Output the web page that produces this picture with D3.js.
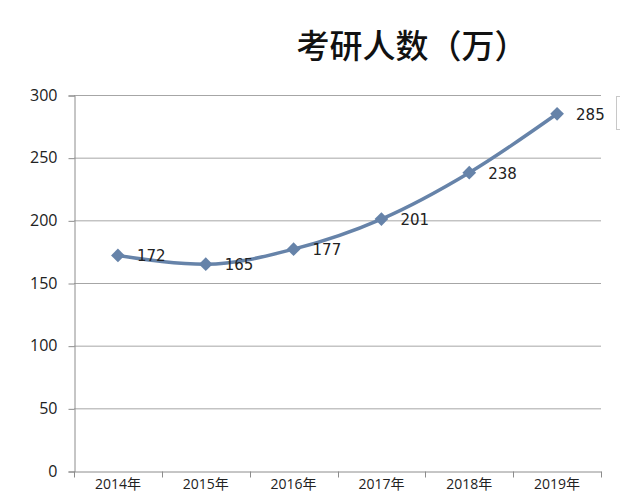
<!DOCTYPE html>
<html>
<head>
<meta charset="utf-8">
<script src="https://cdn.jsdelivr.net/npm/d3@7"></script>
<style>
  body { margin: 0; background: #fff; }
  svg { display: block; }
</style>
</head>
<body>
<svg></svg>
<script>
const width = 620;
const height = 498;
const margin = { top: 95, right: 19, bottom: 27, left: 74 };

// Data
const years = ["2014年", "2015年", "2016年", "2017年", "2018年", "2019年"];
const applicants = [172, 165, 177, 201, 238, 285];
const yTicks = [0, 50, 100, 150, 200, 250, 300];
const title = "考研人数（万）";

const lineColor = "#6683a9";
const gridColor = "#a6a6a6";

const svg = d3.select("svg").attr("width", width).attr("height", height);

// Scales
const x = d3
  .scaleBand()
  .domain(years)
  .range([margin.left, width - margin.right]);

const y = d3
  .scaleLinear()
  .domain([0, 300])
  .range([height - margin.bottom, margin.top]);

// Grid lines
svg
  .append("g")
  .selectAll("line")
  .data(yTicks.slice(1))
  .join("line")
  .attr("x1", margin.left)
  .attr("x2", width - margin.right)
  .attr("y1", (d) => y(d) + 0.5)
  .attr("y2", (d) => y(d) + 0.5)
  .attr("stroke", gridColor)
  .attr("stroke-width", 1);

// Y axis
const yAxis = svg
  .append("g")
  .attr("transform", `translate(${margin.left + 0.5},0.5)`)
  .call(d3.axisLeft(y).tickValues(yTicks).tickSize(6).tickPadding(11));
yAxis.select(".domain").attr("stroke", "#8c8c8c");
yAxis.selectAll(".tick line").attr("stroke", "#8c8c8c");
yAxis
  .selectAll(".tick text")
  .attr("fill", "#222")
  .style("font-family", "'Open Sans', 'DejaVu Sans', sans-serif")
  .style("font-size", "16px")
  .attr("dy", "0.3em");

// X axis (labels sit low, as in the source)
const xAxis = svg
  .append("g")
  .attr("transform", `translate(0,${height - margin.bottom + 0.5})`)
  .call(d3.axisBottom(x).tickSize(0).tickPadding(8));
xAxis.select(".domain").attr("stroke", "#8c8c8c");
xAxis
  .selectAll(".tick text")
  .attr("fill", "#222")
  .style("font-family", "'Open Sans', 'Noto Sans CJK SC', sans-serif")
  .style("font-size", "14px");

// Category boundary ticks
const edges = years.map((d) => x(d)).concat([x(years[years.length - 1]) + x.bandwidth()]);
xAxis
  .append("g")
  .selectAll("line")
  .data(edges)
  .join("line")
  .attr("x1", (d) => Math.round(d) + 0.5)
  .attr("x2", (d) => Math.round(d) + 0.5)
  .attr("y1", 0)
  .attr("y2", 6)
  .attr("stroke", "#8c8c8c");

// Line
const points = years.map((yr, i) => ({ year: yr, value: applicants[i] }));
const cx = (d) => x(d.year) + x.bandwidth() / 2;

const line = d3
  .line()
  .x(cx)
  .y((d) => y(d.value))
  .curve(d3.curveMonotoneX);

svg
  .append("path")
  .datum(points)
  .attr("d", line)
  .attr("fill", "none")
  .attr("stroke", lineColor)
  .attr("stroke-width", 3.5)
  .attr("stroke-linejoin", "round");

// Diamond markers
svg
  .append("g")
  .selectAll("path")
  .data(points)
  .join("path")
  .attr("d", d3.symbol(d3.symbolDiamond2, 120))
  .attr("transform", (d) => `translate(${cx(d)},${y(d.value)})`)
  .attr("fill", lineColor);

// Data labels
svg
  .append("g")
  .selectAll("text")
  .data(points)
  .join("text")
  .attr("x", (d) => cx(d) + 19)
  .attr("y", (d) => y(d.value) + 6)
  .text((d) => d.value)
  .attr("fill", "#222")
  .style("font-family", "'DejaVu Sans', sans-serif")
  .style("font-size", "15px");

// Title
svg
  .append("text")
  .attr("x", 412)
  .attr("y", 58)
  .attr("text-anchor", "middle")
  .text(title)
  .attr("fill", "#111")
  .style("font-family", "'Noto Sans CJK SC', sans-serif")
  .style("font-size", "33px")
  .style("font-weight", "500");

// Legend box edge, cut off at the right
svg
  .append("rect")
  .attr("x", 616.5)
  .attr("y", 96.5)
  .attr("width", 40)
  .attr("height", 33)
  .attr("fill", "none")
  .attr("stroke", "#c8c8c8");
</script>
</body>
</html>
